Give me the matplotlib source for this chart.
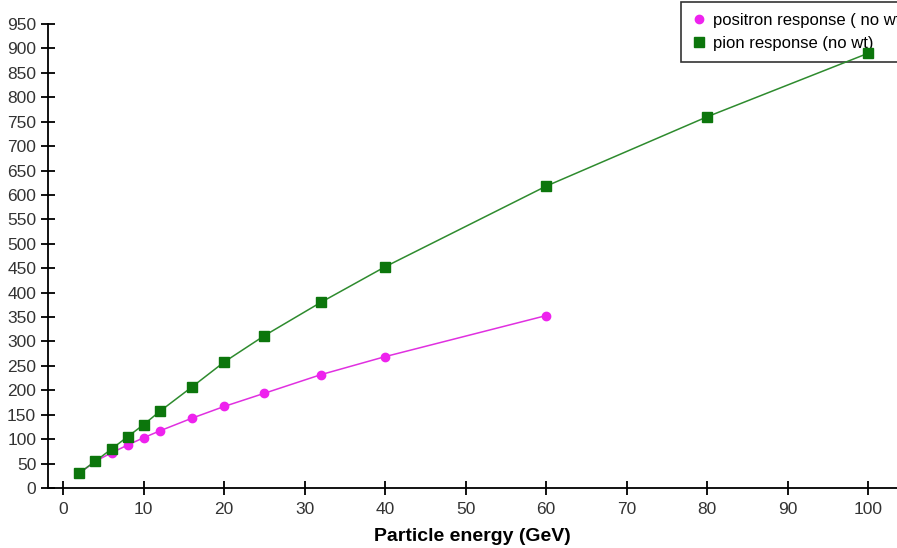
import matplotlib.pyplot as plt

energy_pion = [2, 4, 6, 8, 10, 12, 16, 20, 25, 32, 40, 60, 80, 100]
pion_resp = [31, 55, 80, 105, 130, 157, 207, 258, 312, 380, 453, 618, 760, 890]

energy_pos = [2, 4, 6, 8, 10, 12, 16, 20, 25, 32, 40, 60]
pos_resp = [30, 55, 72, 88, 103, 117, 143, 167, 194, 232, 269, 353]

plt.rcParams['font.family'] = ['Liberation Sans', 'DejaVu Sans']

fig = plt.figure(figsize=(8.97, 5.48), dpi=100)
ax = fig.add_axes([48 / 897, 60 / 548, 1 - 48 / 897, 464 / 548])

ax.plot(energy_pos, pos_resp, color='#e030e0', lw=1.1, marker='o', ms=6,
        mfc='#ee22ee', mec='#ee22ee', label='positron response ( no wt)', clip_on=False)
ax.plot(energy_pion, pion_resp, color='#2e8b2e', lw=1.1, marker='s', ms=6.5,
        mfc='#0c760c', mec='#0c760c', label='pion response (no wt)', clip_on=False,
        zorder=6)

ax.set_xlim(-1.9, 103.6)
ax.set_ylim(0, 950)
ax.set_xticks(range(0, 101, 10))
ax.set_yticks(range(0, 951, 50))
for s in ['top', 'right']:
    ax.spines[s].set_visible(False)
for s in ['left', 'bottom']:
    ax.spines[s].set_linewidth(1.3)
ax.tick_params(direction='inout', length=10, width=1.3, labelsize=12.5, colors='black',
               labelcolor='#333333')
ax.tick_params(axis='x', pad=5)
ax.set_xlabel('Particle energy (GeV)', fontsize=14, fontweight='bold', labelpad=8)

# legend hangs off the right edge, like the original
leg = ax.legend(loc='upper left', bbox_to_anchor=(681 / 897, 1 - 2 / 548),
                bbox_transform=fig.transFigure, borderaxespad=0, frameon=True,
                fancybox=False, fontsize=12, handlelength=0.8, handletextpad=0.45,
                borderpad=0.65, labelspacing=0.5, edgecolor='black')
leg.get_frame().set_linewidth(1.2)
for h in leg.legend_handles:
    h.set_linestyle('')

fig.savefig('out.png', dpi=100)
